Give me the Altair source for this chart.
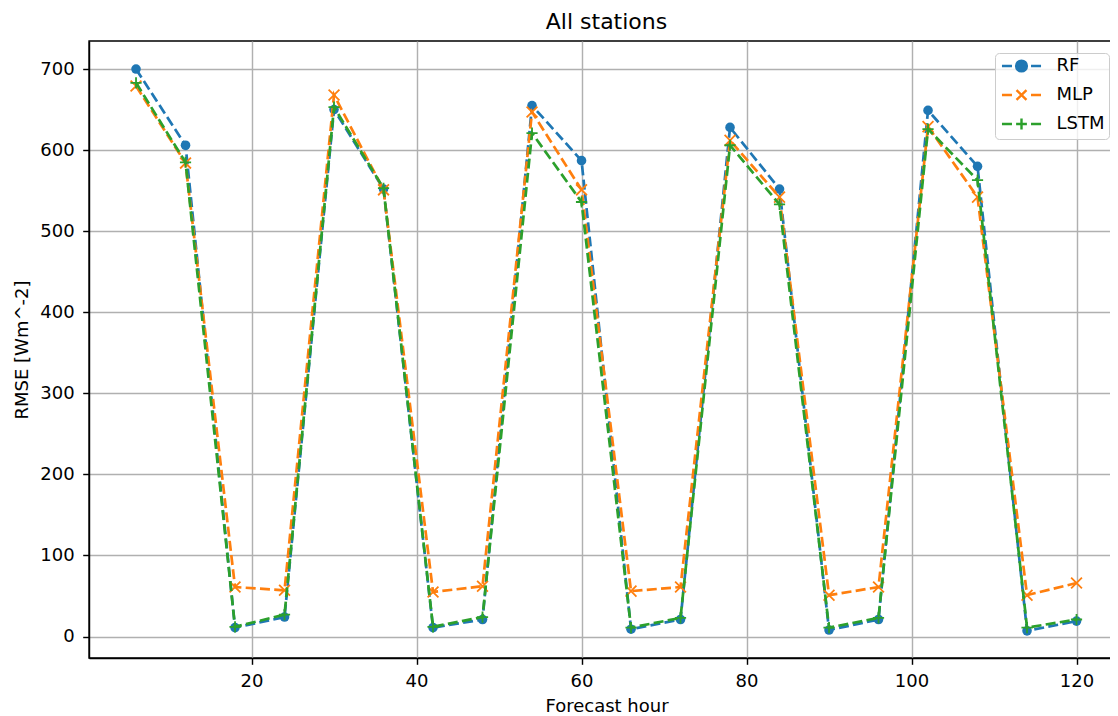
import altair as alt
import pandas as pd

# ---- data ----
hours = [6, 12, 18, 24, 30, 36, 42, 48, 54, 60, 66, 72, 78, 84, 90, 96, 102, 108, 114, 120]
rf = [700, 606, 11, 24, 650, 552, 11, 21, 655, 587, 9, 21, 628, 552, 8, 21, 649, 580, 7, 19]
mlp = [679, 584, 61, 57, 668, 551, 55, 62, 647, 551, 56, 61, 612, 542, 51, 61, 629, 542, 51, 66]
lstm = [683, 585, 12, 27, 653, 553, 12, 24, 621, 536, 11, 23, 606, 533, 11, 23, 626, 563, 11, 21]

models = ["RF", "MLP", "LSTM"]
colors = ["#1f77b4", "#ff7f0e", "#2ca02c"]
x_ticks = [20, 40, 60, 80, 100, 120]
y_ticks = [0, 100, 200, 300, 400, 500, 600, 700]

df = pd.DataFrame({"hour": hours, "RF": rf, "MLP": mlp, "LSTM": lstm})
legend_df = pd.DataFrame({"model": models})

FONT = "DejaVu Sans"
X_PATH = "M-1,-1L1,1M-1,1L1,-1"
PLUS_PATH = "M-1,0L1,0M0,-1L0,1"

# legend symbols: dashed line sample with the marker in the middle
DASHES = "M-2.79,0L-1.36,0M1.36,0L2.79,0"
legend_paths = [
    DASHES + "M0.77,0A0.77,0.77,0,1,1,-0.77,0A0.77,0.77,0,1,1,0.77,0Z",
    DASHES + "M-0.71,-0.71L0.71,0.71M-0.71,0.71L0.71,-0.71",
    DASHES + "M-0.77,0L0.77,0M0,-0.77L0,0.77",
]

PLOT_W = 1035
PLOT_H = 617
xscale = alt.Scale(domain=[0.3, 0.3 + PLOT_W / 8.25], nice=False, zero=False)
yscale = alt.Scale(domain=[-26.5, 734.6], nice=False, zero=False)

xaxis = alt.Axis(values=x_ticks, title="Forecast hour", labelPadding=8,
                 titleY=53, titleBaseline="alphabetic")
yaxis = alt.Axis(values=y_ticks, title="RMSE [Wm^-2]", labelPadding=8.5,
                 titleX=-62, titleBaseline="alphabetic")

DASH = [10, 4.3]
LW = 2.7


def series_layers(field, color, shape, size, filled):
    x = alt.X("hour:Q", scale=xscale, axis=xaxis)
    y = alt.Y(f"{field}:Q", scale=yscale, axis=yaxis)
    line = alt.Chart(df).mark_line(color=color, strokeWidth=LW, strokeDash=DASH).encode(x=x, y=y)
    if filled:
        pts = alt.Chart(df).mark_point(shape=shape, filled=True, size=size, color=color,
                                        opacity=1).encode(x=x, y=y)
    else:
        pts = alt.Chart(df).mark_point(shape=shape, filled=False, size=size, color=color,
                                        strokeWidth=1.8, opacity=1).encode(x=x, y=y)
    return [line, pts]


layers = []
layers += series_layers("RF", colors[0], "circle", 92, True)
layers += series_layers("MLP", colors[1], X_PATH, 117, False)
layers += series_layers("LSTM", colors[2], PLUS_PATH, 125, False)

leg = alt.Legend(
    title=None, orient="none", legendX=906, legendY=12,
    padding=4, rowPadding=8, symbolSize=196, symbolStrokeWidth=2.4,
    symbolOffset=13.5, labelOffset=26, symbolOpacity=1,
    labelFont=FONT, labelFontSize=18, labelColor="black",
    fillColor="rgba(255,255,255,0.8)", strokeColor="#cccccc", cornerRadius=4,
)

legend_layer = alt.Chart(legend_df).transform_filter("false").mark_point(
    filled=True, opacity=1
).encode(
    fill=alt.Fill("model:N", scale=alt.Scale(domain=models, range=colors), legend=leg),
    stroke=alt.Stroke("model:N", scale=alt.Scale(domain=models, range=colors), legend=leg),
    shape=alt.Shape("model:N", scale=alt.Scale(domain=models, range=legend_paths), legend=leg),
)
layers.append(legend_layer)

chart = alt.layer(*layers).properties(
    width=PLOT_W, height=PLOT_H,
    title=alt.Title("All stations", font=FONT, fontSize=22, fontWeight="normal",
                    color="black", offset=7),
    autosize=alt.AutoSizeParams(type="none"),
    padding={"left": 81, "top": 33, "right": -14, "bottom": 60},
).configure_view(
    stroke="black", strokeWidth=1.44
).configure_axis(
    grid=True, gridColor="#b0b0b0", gridWidth=1.44,
    domainColor="black", domainWidth=1.44,
    tickColor="black", tickSize=6.3, tickWidth=1.44,
    labelFont=FONT, labelFontSize=18, labelColor="black",
    titleFont=FONT, titleFontSize=18, titleFontWeight="normal", titleColor="black",
)

chart.save("out.html", embed_options={"renderer": "svg", "actions": False})
